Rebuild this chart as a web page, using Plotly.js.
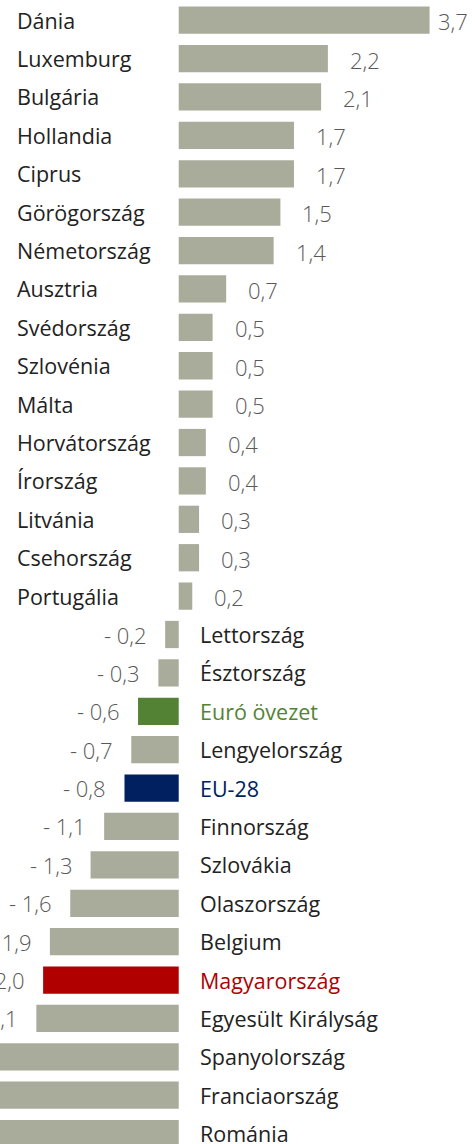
<!DOCTYPE html>
<html><head><meta charset="utf-8">
<script src="https://cdn.plot.ly/plotly-3.0.1.min.js"></script>
<style>html,body{margin:0;padding:0;overflow:hidden;background:#fff}#chart{width:475px;height:1144px}</style>
</head><body><div id="chart"></div>
<script>
const countries = ["Dánia","Luxemburg","Bulgária","Hollandia","Ciprus","Görögország","Németország","Ausztria","Svédország","Szlovénia","Málta","Horvátország","Írország","Litvánia","Csehország","Portugália","Lettország","Észtország","Euró övezet","Lengyelország","EU-28","Finnország","Szlovákia","Olaszország","Belgium","Magyarország","Egyesült Királyság","Spanyolország","Franciaország","Románia"];
const values = [3.7,2.2,2.1,1.7,1.7,1.5,1.4,0.7,0.5,0.5,0.5,0.4,0.4,0.3,0.3,0.2,-0.2,-0.3,-0.6,-0.7,-0.8,-1.1,-1.3,-1.6,-1.9,-2.0,-2.1,-2.7,-2.9,-3.4];
const highlightNames = ["Euró övezet","EU-28","Magyarország"];
const highlightColors = ["#548235","#002060","#B00000"];
const baseColor = "#A9AC9B";
const textColor = "#222222";
const valueColor = "#595959";

function colorOf(c){const i=highlightNames.indexOf(c);return i<0?baseColor:highlightColors[i];}
function labelColorOf(c){const i=highlightNames.indexOf(c);return i<0?textColor:highlightColors[i];}
function fmt(v){const s=Math.abs(v).toFixed(1).replace('.',',');return v<0?'- '+s:s;}

const FONT = "Open Sans, Lato, sans-serif";
const annotations = [];
countries.forEach((c,i)=>{
  const v = values[i];
  if(v>=0){
    annotations.push({xref:'paper',yref:'y',x:15/475,y:c,xanchor:'left',yanchor:'middle',showarrow:false,text:c,font:{family:FONT,size:21.5,color:labelColorOf(c)}});
    annotations.push({xref:'x',yref:'y',x:v,y:c,xanchor:'left',yanchor:'middle',xshift:(i===0?6:20),yshift:-1,showarrow:false,text:fmt(v),font:{family:FONT,size:22,color:valueColor,weight:300}});
  } else {
    annotations.push({xref:'x',yref:'y',x:0,y:c,xanchor:'left',yanchor:'middle',xshift:19,showarrow:false,text:c,font:{family:FONT,size:21.5,color:labelColorOf(c)}});
    annotations.push({xref:'x',yref:'y',x:v,y:c,xanchor:'right',yanchor:'middle',xshift:-16,showarrow:false,text:fmt(v),font:{family:FONT,size:22,color:valueColor,weight:300}});
  }
});

const trace = {
  type:'bar', orientation:'h', y:countries, x:values,
  marker:{color:countries.map(colorOf)}, width:0.71, hoverinfo:'none'
};
const layout = {
  width:475, height:1144, margin:{l:0,r:0,t:0,b:0},
  paper_bgcolor:'#fff', plot_bgcolor:'#fff', showlegend:false,
  xaxis:{range:[-2.636,4.370], visible:false, fixedrange:true},
  yaxis:{type:'category', categoryorder:'array', categoryarray:countries, range:[29.27,-0.526], visible:false, fixedrange:true},
  annotations:annotations
};
Plotly.newPlot('chart',[trace],layout,{staticPlot:true,displayModeBar:false});
</script></body></html>
